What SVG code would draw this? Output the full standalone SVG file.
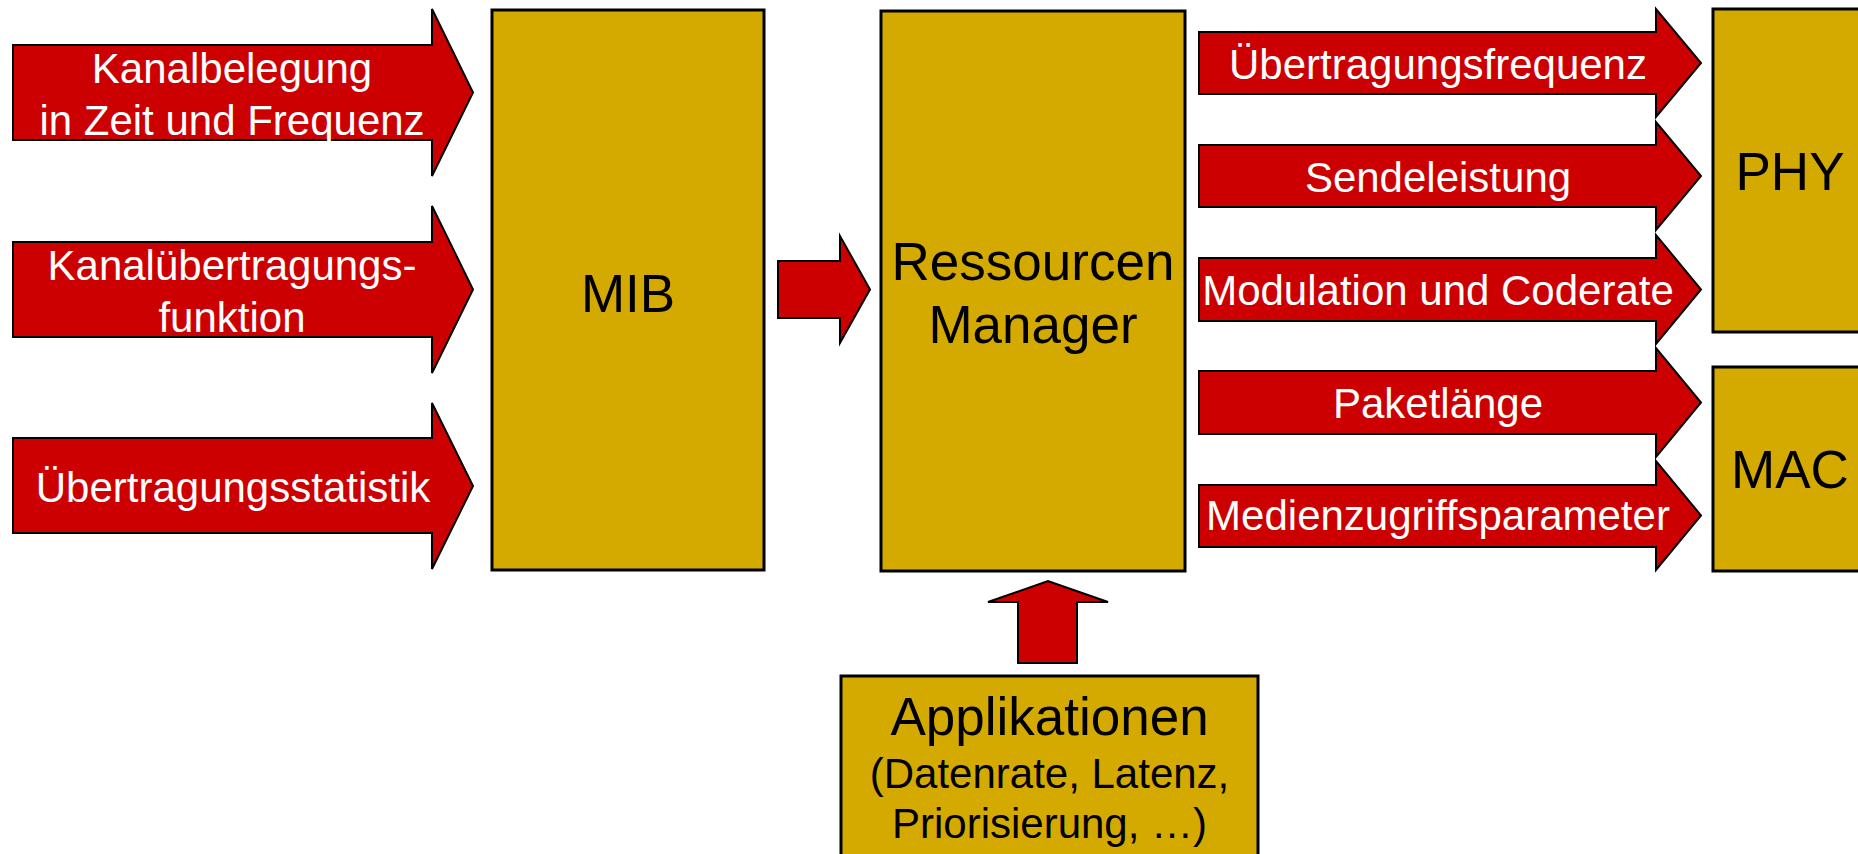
<svg xmlns="http://www.w3.org/2000/svg" width="1858" height="854" viewBox="0 0 1858 854">
  <style>
    .box { fill: #D4AA00; stroke: #000; stroke-width: 3; }
    .arrow { fill: #CC0000; stroke: #000; stroke-width: 2; stroke-linejoin: miter; }
    .lbl { font-family: "Liberation Sans", Arial, Helvetica, sans-serif; text-anchor: middle; }
    .big { font-size: 53px; fill: #000; }
    .sub { font-size: 42px; fill: #000; }
    .w { font-size: 42px; fill: #fff; }
  </style>

  <!-- inputs feeding the MIB -->
  <g id="in-kanalbelegung">
    <polygon class="arrow" points="13,45 432,45 432,9 473,92.5 432,176 432,140 13,140"/>
    <text class="lbl w" x="232" y="83">Kanalbelegung</text>
    <text class="lbl w" x="232" y="135">in Zeit und Frequenz</text>
  </g>
  <g id="in-kanaluebertragung">
    <polygon class="arrow" points="13,242 432,242 432,206 473,289.5 432,373 432,337 13,337"/>
    <text class="lbl w" x="232" y="280">Kanalübertragungs-</text>
    <text class="lbl w" x="232" y="332">funktion</text>
  </g>
  <g id="in-statistik">
    <polygon class="arrow" points="13,438 432,438 432,403 473,486 432,569 432,533 13,533"/>
    <text class="lbl w" x="233" y="502">Übertragungsstatistik</text>
  </g>

  <!-- MIB -->
  <g id="mib">
    <rect class="box" x="492" y="10" width="272" height="560"/>
    <text class="lbl big" x="628" y="312">MIB</text>
  </g>

  <!-- Ressourcen Manager -->
  <g id="ressourcen-manager">
    <rect class="box" x="881" y="11" width="304" height="560"/>
    <text class="lbl big" x="1033" y="280">Ressourcen</text>
    <text class="lbl big" x="1033" y="343">Manager</text>
  </g>

  <!-- PHY / MAC layers -->
  <g id="phy">
    <rect class="box" x="1713" y="9" width="160" height="323"/>
    <text class="lbl big" x="1790" y="190">PHY</text>
  </g>
  <g id="mac">
    <rect class="box" x="1713" y="367" width="160" height="204"/>
    <text class="lbl big" x="1790" y="488">MAC</text>
  </g>

  <!-- Applikationen -->
  <g id="applikationen">
    <rect class="box" x="841" y="676" width="417" height="200"/>
    <text class="lbl big" x="1049.5" y="735">Applikationen</text>
    <text class="lbl sub" x="1049.5" y="788">(Datenrate, Latenz,</text>
    <text class="lbl sub" x="1049.5" y="838">Priorisierung, …)</text>
  </g>

  <!-- connectors -->
  <g id="connectors">
    <!-- MIB to Ressourcen Manager -->
    <polygon class="arrow" points="778,261 840,261 840,236 870,289.5 840,343 840,318 778,318"/>
    <!-- Applikationen to Ressourcen Manager -->
    <polygon class="arrow" points="1018,663 1018,602 988,602 1048,581 1108,602 1077,602 1077,663"/>

    <!-- outputs of the Ressourcen Manager -->
    <g id="out-frequenz">
      <polygon class="arrow" points="1199,32 1656,32 1656,9 1701,63 1656,117 1656,94 1199,94"/>
      <text class="lbl w" x="1438" y="79">Übertragungsfrequenz</text>
    </g>
    <g id="out-sendeleistung">
      <polygon class="arrow" points="1199,145 1656,145 1656,122 1701,176 1656,230 1656,207 1199,207"/>
      <text class="lbl w" x="1438" y="192">Sendeleistung</text>
    </g>
    <g id="out-modulation">
      <polygon class="arrow" points="1199,258 1656,258 1656,235 1701,289.5 1656,344 1656,321 1199,321"/>
      <text class="lbl w" x="1438" y="305">Modulation und Coderate</text>
    </g>
    <g id="out-paketlaenge">
      <polygon class="arrow" points="1199,371 1656,371 1656,348 1701,402.5 1656,457 1656,434 1199,434"/>
      <text class="lbl w" x="1438" y="418">Paketlänge</text>
    </g>
    <g id="out-medienzugriff">
      <polygon class="arrow" points="1199,485 1656,485 1656,461 1701,515.5 1656,570 1656,547 1199,547"/>
      <text class="lbl w" x="1438" y="530">Medienzugriffsparameter</text>
    </g>
  </g>
</svg>
